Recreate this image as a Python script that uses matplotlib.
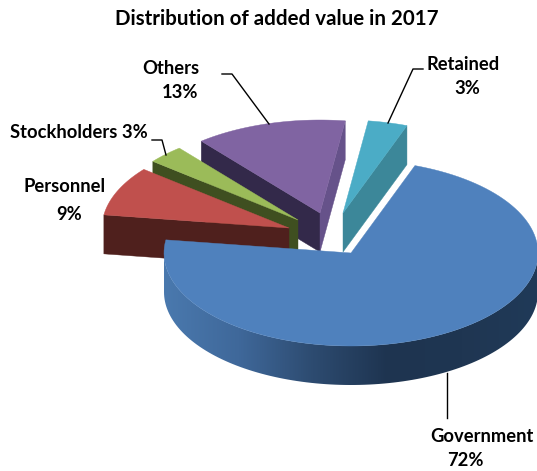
import numpy as np
import matplotlib
matplotlib.use('Agg')
import matplotlib.pyplot as plt
from matplotlib.colors import LinearSegmentedColormap
from matplotlib.patches import Polygon

# Data (labels show them rounded)
names = ['Government', 'Personnel', 'Stockholders', 'Others', 'Retained']
shares = [71.7, 8.6, 3.2, 13.1, 3.4]

top_colors = ['#4f81bd', '#c0504d', '#9bbb59', '#8064a2', '#4bacc6']
# None means that cut face looks away from the viewer
start_cut_colors = [None, '#4f201d', '#3f4f20', '#33294a', None]
end_cut_colors = [None, None, None, '#66528a', '#3c8799']

# exploded slice tips in pixels
tips = [(351, 253), (289, 228), (298, 220), (320, 213), (343, 213)]
draw_order = [3, 2, 1, 4, 0]

rx, ry, depth = 187, 93, 39
start_angle = 70

plt.rcParams['font.family'] = 'Lato'
plt.rcParams['font.weight'] = 'bold'

fig = plt.figure(figsize=(5.37, 4.71), dpi=100)
ax = fig.add_axes([0, 0, 1, 1])
ax.set_xlim(0, 537)
ax.set_ylim(471, 0)
ax.axis('off')


def rim(tip, t0, t1):
    t = np.radians(np.linspace(t0, t1, 120))
    return np.column_stack([tip[0] + rx * np.cos(t), tip[1] - ry * np.sin(t)])


# slice angles go clockwise from the start angle
ends = start_angle - 3.6 * np.cumsum(shares)
starts = ends + 3.6 * np.array(shares)

for z, i in enumerate(draw_order):
    tip = np.array(tips[i], dtype=float)
    arc = rim(tip, starts[i], ends[i])
    down = np.array([0, depth])

    if i == 0:
        # front wall with the dark gradient
        wall_top = rim(tip, -180, -2)
        wall = Polygon(np.vstack([wall_top, (wall_top + down)[::-1]]), closed=True,
                       fc='none', ec='none', zorder=z + 2)
        ax.add_patch(wall)
        cmap = LinearSegmentedColormap.from_list(
            'wall', ['#4a79ae', '#3f689a', '#2d4b70', '#1e3450', '#1f3652', '#203a58'])
        img = ax.imshow(np.linspace(0, 1, 256).reshape(1, -1), cmap=cmap, aspect='auto',
                        extent=[164, 537, 400, 240], zorder=z + 2)
        img.set_clip_path(wall)
        ax.set_xlim(0, 537)
        ax.set_ylim(471, 0)

    # the cut faces from the tip
    for pt, col in ((arc[0], start_cut_colors[i]), (arc[-1], end_cut_colors[i])):
        if col is not None:
            ax.add_patch(Polygon([tip, pt, pt + down, tip + down], closed=True,
                                 fc=col, ec=col, lw=0.3, zorder=z + 2))

    ax.add_patch(Polygon(np.vstack([tip, arc]), closed=True, fc=top_colors[i],
                         ec=top_colors[i], lw=0.3, zorder=z + 2.5))

# leader lines
leaders = [[(447, 373), (447, 418)],
           [(152, 140), (162, 140), (166, 155)],
           [(222, 74), (232, 74), (269, 124)],
           [(388, 123), (413, 69), (423, 69)]]
for pts in leaders:
    xs, ys = zip(*pts)
    ax.plot(xs, ys, color='black', lw=1.0, zorder=10)

label = dict(color='black', fontsize=13.2, fontweight='bold', va='center')
ax.text(277, 19, 'Distribution of added value in 2017', ha='center', va='center',
        fontsize=14.8, fontweight='bold', color='black')
ax.text(482, 436, names[0], ha='center', **label)
ax.text(465, 460, f'{shares[0]:.0f}%', ha='center', **label)
ax.text(65, 186, names[1], ha='center', **label)
ax.text(69, 214, f'{shares[1]:.0f}%', ha='center', **label)
ax.text(10, 132, f'{names[2]} {shares[2]:.0f}%', ha='left', **label)
ax.text(199, 69, names[3], ha='right', **label)
ax.text(198, 92, f'{shares[3]:.0f}%', ha='right', **label)
ax.text(463, 64, names[4], ha='center', **label)
ax.text(467, 88, f'{shares[4]:.0f}%', ha='center', **label)

fig.savefig('out.png', dpi=100)
